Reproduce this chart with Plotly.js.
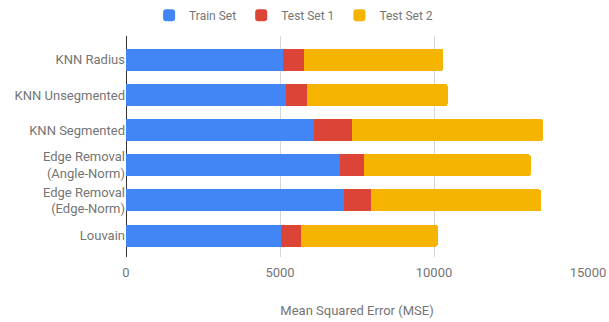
<!DOCTYPE html>
<html><head><meta charset="utf-8">
<script src="https://cdn.plot.ly/plotly-3.0.1.min.js"></script>
<style>html,body{margin:0;padding:0;background:#fff}#chart{width:609px;height:322px}</style>
</head><body><div id="chart"></div>
<script>
const categories = ["KNN Radius","KNN Unsegmented","KNN Segmented","Edge Removal<br>(Angle-Norm)","Edge Removal<br>(Edge-Norm)","Louvain"];
const trainSet = [5100, 5180, 6090, 6940, 7070, 5020];
const testSet1 = [680, 710, 1250, 800, 880, 660];
const testSet2 = [4520, 4550, 6190, 5400, 5520, 4440];
const seriesNames = ["Train Set","Test Set 1","Test Set 2"];
const colors = ["#4285F4","#DB4437","#F4B400"];
const xTicks = [0, 5000, 10000, 15000];

const font = {family: "Roboto, sans-serif", size: 13, color: "#757575"};
const legendFont = {family: "Roboto, sans-serif", size: 12, color: "#757575"};
const data = [trainSet, testSet1, testSet2].map((vals, i) => ({
  type: "bar", orientation: "h", y: categories, x: vals, name: seriesNames[i],
  marker: {color: colors[i]}, hoverinfo: "x+name"
}));
const layout = {
  width: 609, height: 322,
  margin: {l: 126, r: 21, t: 36, b: 65, autoexpand: false},
  barmode: "stack", bargap: 0.373, barcornerradius: 2,
  font: font,
  paper_bgcolor: "#fff", plot_bgcolor: "#fff",
  showlegend: true,
  legend: {orientation: "h", x: 0.05, y: 1.16, xanchor: "left", yanchor: "top",
           font: legendFont, itemwidth: 30,
           traceorder: "normal", tracegroupgap: 0},
  xaxis: {range: [0, 15000], tickvals: xTicks, ticktext: xTicks.map(String),
          showgrid: true, gridcolor: "#d6d6d6", gridwidth: 1,
          zeroline: true, zerolinecolor: "#333", zerolinewidth: 1,
          showline: false, ticks: "", tickfont: font, ticklabelstandoff: 6,
          title: {text: "Mean Squared Error (MSE)", font: font, standoff: 26}},
  yaxis: {type: "category", range: [5.61, -0.68], showgrid: false, zeroline: false,
          showline: false, ticks: "", ticklabelstandoff: 0, tickfont: font, automargin: false}
};
Plotly.newPlot("chart", data, layout, {displayModeBar: false, staticPlot: true});
</script></body></html>
